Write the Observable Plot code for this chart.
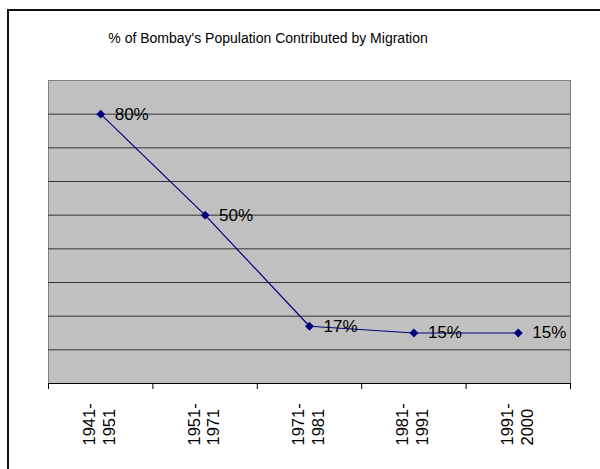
<!DOCTYPE html>
<html>
<head>
<meta charset="utf-8">
<script src="https://cdn.jsdelivr.net/npm/d3@7"></script>
<script src="https://cdn.jsdelivr.net/npm/@observablehq/plot@0.6"></script>
<style>
  html, body { margin: 0; padding: 0; background: #fff; }
  #wrap { position: relative; width: 600px; height: 469px; overflow: hidden; font-family: "Liberation Sans", Arial, sans-serif; }
  #border { position: absolute; left: 7px; top: 9px; width: 700px; height: 600px; border-left: 2px solid #111; border-top: 2px solid #111; box-sizing: border-box; }
  #title { position: absolute; left: 0; top: 30px; width: 536px; text-align: center; font-size: 14px; line-height: 16px; color: #000; }
  #chart { position: absolute; left: 0; top: 0; }
</style>
</head>
<body>
<div id="wrap">
  <div id="border"></div>
  <div id="chart"></div>
  <div id="title">% of Bombay's Population Contributed by Migration</div>
</div>
<script>
const titleText = "% of Bombay's Population Contributed by Migration";
const periods = ["1941-\n1951", "1951-\n1971", "1971-\n1981", "1981-\n1991", "1991-\n2000"];
const migrationPct = [80, 50, 17, 15, 15];
const valueLabels = ["80%", "50%", "17%", "15%", "15%"];
const gridTicks = [10, 20, 30, 40, 50, 60, 70, 80];

const data = periods.map((p, i) => ({ idx: i + 0.5, period: p, pct: migrationPct[i], label: valueLabels[i] }));
const boundaries = d3.range(periods.length + 1);

const chart = Plot.plot({
  width: 600,
  height: 469,
  marginLeft: 48,
  marginRight: 30,
  marginTop: 80,
  marginBottom: 86,
  style: { fontFamily: "Liberation Sans, Arial, sans-serif", background: "transparent", overflow: "visible" },
  x: { domain: [0, periods.length], axis: null },
  y: { domain: [0, 90], axis: null },
  marks: [
    Plot.frame({ fill: "#C0C0C0", stroke: "#808080" }),
    Plot.ruleY(gridTicks, { stroke: "#333", strokeWidth: 1 }),
    Plot.ruleY([0], { stroke: "#000", strokeWidth: 1.2 }),
    Plot.axisX({ ticks: boundaries, tickFormat: () => "", tickSize: 6, stroke: "#000", label: null }),
    Plot.line(data, { x: "idx", y: "pct", stroke: "#000080", strokeWidth: 1.2 }),
    Plot.dot(data, { x: "idx", y: "pct", symbol: "diamond2", r: 4, fill: "#000080", stroke: "none" }),
    Plot.text(data, { x: "idx", y: "pct", text: "label", textAnchor: "start", dx: 14, fontSize: 17, fill: "#000" }),
    Plot.text(data, { x: "idx", text: "period", frameAnchor: "bottom", rotate: -90, textAnchor: "start", lineAnchor: "middle", lineHeight: 1.2, dy: 62, dx: -2, fontSize: 16.5, fill: "#000" })
  ]
});
document.getElementById("chart").appendChild(chart);
</script>
</body>
</html>
